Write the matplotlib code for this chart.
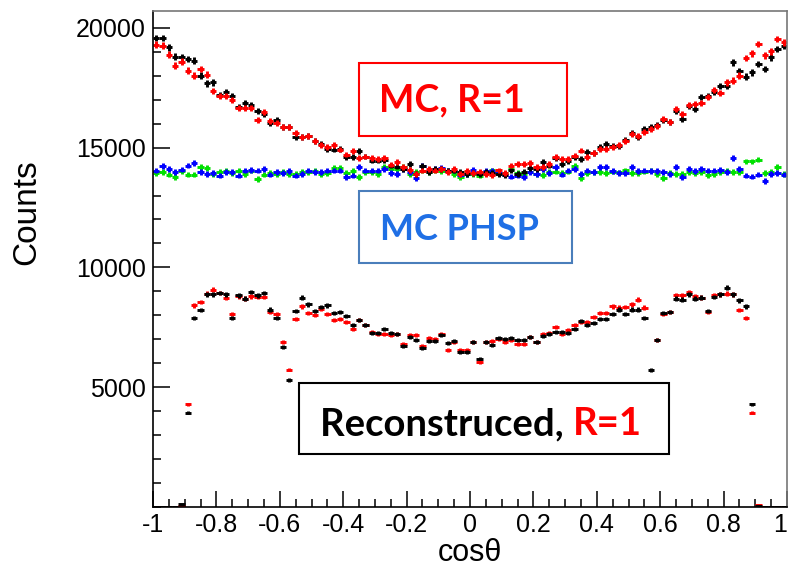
import matplotlib
matplotlib.use("Agg")
import matplotlib.pyplot as plt
from matplotlib.patches import Rectangle
from matplotlib.ticker import MultipleLocator
import numpy as np


#### DATA ####
n_bins = 100
edges = np.linspace(-1, 1, n_bins + 1)
centers = 0.5 * (edges[:-1] + edges[1:])
half_width = 0.5 * (edges[1] - edges[0])

mc_black = [19569, 19569, 19181, 18792, 18764, 18694, 18625, 18000, 17681, 17722,
            17208, 17306, 17167, 16681, 16861, 16792, 16542, 16403, 16014, 16167,
            15847, 15847, 15431, 15431, 15500, 15264, 15153, 14944, 14917, 14944,
            14597, 14597, 14847, 14625, 14458, 14458, 14486, 14250, 14208, 14111,
            14319, 13903, 14222, 13972, 14111, 14111, 14042, 14042, 13972, 13903,
            13950, 13900, 14000, 13950, 13900, 13850, 14050, 13900, 14000, 14150,
            14100, 14410, 14250, 14580, 14330, 14450, 14600, 14530, 14806, 14760,
            15014, 15153, 15056, 15056, 15300, 15597, 15458, 15778, 15847, 15958,
            16153, 16056, 16542, 16194, 16750, 16611, 17097, 17167, 17306, 17583,
            17583, 18556, 18181, 17958, 18139, 18486, 18278, 18764, 19111, 19250]

mc_red = [19292, 19250, 18875, 18417, 18583, 18208, 18000, 18278, 18042, 17347,
          17167, 17167, 16986, 16653, 16653, 16653, 16153, 16472, 16097, 16014,
          15875, 15847, 15597, 15458, 15500, 15264, 15125, 15014, 15125, 14917,
          14708, 14847, 14569, 14625, 14569, 14528, 14569, 14292, 14389, 14181,
          14069, 13903, 14042, 14111, 14042, 14111, 13972, 14111, 13903, 14014,
          13950, 14000, 13900, 13850, 14050, 13950, 14250, 14320, 14319, 14360,
          14180, 14200, 14319, 14597, 14528, 14528, 14667, 14875, 14597, 14764,
          14944, 14944, 15042, 15125, 15264, 15569, 15500, 15639, 15778, 15917,
          16194, 16056, 16611, 16403, 16792, 16819, 16847, 17097, 17403, 17264,
          17722, 17792, 18000, 18736, 18931, 19319, 18850, 19014, 19528, 19389]

phsp_blue = [14042, 14222, 14111, 13972, 14083, 14250, 14347, 13972, 13903, 13931,
             13833, 13972, 13972, 13833, 14042, 14069, 14042, 14111, 13875, 13972,
             13931, 14014, 13833, 13903, 14042, 13972, 13972, 14042, 14042, 14042,
             13764, 13833, 14181, 14042, 14042, 14042, 14111, 13931, 13903, 14111,
             13972, 13736, 14222, 14014, 14111, 14153, 14042, 14042, 13875, 13903,
             14083, 13931, 14014, 14042, 13931, 13875, 13792, 13833, 13764, 13972,
             13903, 14111, 13931, 14181, 13875, 14042, 14111, 13903, 14042, 13972,
             14181, 14181, 14014, 13931, 13931, 14181, 14014, 14042, 14014, 14014,
             13972, 13903, 14181, 13764, 14111, 14014, 14111, 14042, 14042, 14069,
             13972, 14569, 14111, 13833, 13792, 13875, 13597, 13903, 13931, 13875]

phsp_green = [13931, 13972, 13875, 13764, 14014, 13875, 13875, 14181, 14153, 13903,
              13972, 14014, 13931, 14042, 13903, 14042, 13694, 13875, 13931, 13903,
              13972, 13903, 13903, 13972, 13972, 14014, 13903, 13931, 14153, 14153,
              13931, 14014, 13764, 13972, 13972, 13903, 14181, 14111, 14111, 14181,
              13903, 13972, 14042, 13972, 14042, 14014, 14042, 13903, 13764, 13890,
              13900, 13830, 13950, 14050, 13950, 13920, 14100, 13950, 13880, 14000,
              13900, 13850, 13970, 14000, 13950, 14000, 14220, 13720, 13950, 13970,
              13970, 13940, 14000, 13960, 14050, 13950, 13950, 14000, 14040, 13900,
              13720, 13950, 13900, 13900, 13980, 13950, 13960, 13860, 13900, 13980,
              14040, 13970, 13960, 14420, 14420, 14500, 13944, 13972, 14180, 13900]

reco_black = [0, 0, 15, 20, 110, 3930, 7903, 8208, 8875, 8875,
              8931, 8875, 7903, 8833, 8694, 8972, 8833, 8931, 8236, 7903,
              6681, 5292, 8181, 8736, 8458, 8181, 8347, 8417, 8097, 8139,
              7958, 7583, 7819, 7583, 7264, 7264, 7444, 7264, 7236, 6708,
              7097, 6958, 6653, 6931, 6931, 7167, 6847, 6931, 6472, 6472,
              6889, 6194, 6889, 6750, 7069, 7028, 7069, 6958, 6986, 7097,
              6889, 7125, 7236, 7306, 7306, 7264, 7444, 7764, 7583, 7681,
              7861, 7861, 8042, 8236, 8042, 8236, 8236, 7903, 5708, 6958,
              8097, 8139, 8694, 8653, 8875, 8694, 8736, 8181, 8764, 8875,
              9153, 8875, 8625, 8375, 4278, 60, 10, 5, 0, 0]

reco_red = [0, 0, 10, 15, 40, 4280, 8417, 8556, 8903, 9069,
            8931, 8736, 8069, 8792, 8694, 8792, 8764, 8764, 8139, 8042,
            6889, 5736, 7861, 8375, 8097, 8000, 8278, 8042, 7819, 7861,
            7722, 7444, 7792, 7583, 7306, 7236, 7208, 7167, 7236, 6792,
            7167, 7167, 6708, 7069, 7028, 7236, 6569, 6889, 6542, 6542,
            6889, 6056, 6889, 6931, 7028, 6889, 6958, 6792, 6792, 7097,
            6889, 7208, 7264, 7514, 7208, 7403, 7583, 7722, 7722, 7931,
            8097, 8097, 8375, 8319, 8347, 8458, 8653, 8319, 5042, 6958,
            8042, 8139, 8833, 8833, 8972, 8792, 8736, 8139, 8833, 8875,
            8903, 8875, 8208, 7903, 3931, 100, 20, 10, 0, 0]

x_ticks = [-1, -0.8, -0.6, -0.4, -0.2, 0, 0.2, 0.4, 0.6, 0.8, 1]
x_tick_labels = ["-1", "-0.8", "-0.6", "-0.4", "-0.2", "0", "0.2", "0.4", "0.6", "0.8", "1"]
y_ticks = [5000, 10000, 15000, 20000]
y_tick_labels = ["5000", "10000", "15000", "20000"]

W, H = 790, 571


def px_box(x0, y0, x1, y1):
    # image pixel box (y down) -> figure fraction
    return x0 / W, 1 - y1 / H, (x1 - x0) / W, (y1 - y0) / H


def draw_hist(ax, counts, color, lw):
    counts = np.array(counts, dtype=float)
    ax.errorbar(centers, counts, xerr=half_width, yerr=np.sqrt(counts),
                fmt="none", ecolor=color, elinewidth=lw, capsize=0)


plt.rcParams["font.family"] = ["Liberation Sans", "DejaVu Sans"]
plt.rcParams["axes.unicode_minus"] = False

fig = plt.figure(figsize=(W / 100, H / 100), dpi=100)
fig.patch.set_facecolor("white")
ax = fig.add_axes(px_box(153, 11, 787, 507))

draw_hist(ax, phsp_green, "#00e000", 2.1)
draw_hist(ax, phsp_blue, "#0000ff", 2.1)
draw_hist(ax, mc_black, "black", 2.1)
draw_hist(ax, mc_red, "#ff0000", 2.1)
draw_hist(ax, reco_red, "#ff0000", 2.1)
draw_hist(ax, reco_black, "black", 2.1)

ax.set_xlim(-1, 1)
ax.set_ylim(0, 20700)
ax.set_xticks(x_ticks)
ax.set_xticklabels(x_tick_labels)
ax.set_yticks(y_ticks)
ax.set_yticklabels(y_tick_labels)
ax.xaxis.set_minor_locator(MultipleLocator(0.05))
ax.yaxis.set_minor_locator(MultipleLocator(1000))
ax.tick_params(axis="both", which="both", direction="in", top=False, right=False,
               width=1.1, colors="black", labelsize=18)
ax.tick_params(axis="x", which="major", length=11.5, pad=4)
ax.tick_params(axis="x", which="minor", length=6)
ax.tick_params(axis="y", which="major", length=12, pad=5)
ax.tick_params(axis="y", which="minor", length=6)
# last x label sits on the frame edge, keep it inside the picture
ax.get_xticklabels()[-1].set_horizontalalignment("right")
for side in ["left", "bottom"]:
    ax.spines[side].set_linewidth(1.2)
    ax.spines[side].set_color("black")
for side in ["top", "right"]:
    ax.spines[side].set_linewidth(1.2)
    ax.spines[side].set_color("#777777")

fig.text(27 / W, 1 - 212 / H, "Counts", rotation=90, ha="center", va="center",
         fontsize=24)
fig.text(470 / W, 1 - 553 / H, "cos\u03b8", ha="center", va="center", fontsize=22)

# label boxes
boxes = [((359, 63, 567, 136), "#ff0000"),
         ((359, 191, 572, 263), "#4a7ebb"),
         ((299, 383, 669, 454), "black")]
for (x0, y0, x1, y1), ec in boxes:
    fig.add_artist(Rectangle(px_box(x0, y0, x1, y1)[:2], (x1 - x0) / W, (y1 - y0) / H,
                             transform=fig.transFigure, facecolor="white",
                             edgecolor=ec, linewidth=1.5, zorder=5))

label_font = dict(family=["Lato", "DejaVu Sans"], fontweight="bold", zorder=6)
fig.text(452 / W, 1 - 100 / H, "MC, R=1", color="#ff0000", ha="center", va="center",
         fontsize=27, **label_font)
fig.text(459 / W, 1 - 229 / H, "MC PHSP", color="#1f6fe5", ha="center", va="center",
         fontsize=26, **label_font)
t1 = fig.text(320 / W, 1 - 435 / H, "Reconstruced, ", color="black", ha="left",
              va="baseline", fontsize=27.5, **label_font)
fig.canvas.draw()
ext = t1.get_window_extent(renderer=fig.canvas.get_renderer())
fig.text(ext.x1 / W, 1 - 435 / H, "R=1", color="#ff0000", ha="left", va="baseline",
         fontsize=27.5, **label_font)

fig.savefig("out.png", dpi=100)
